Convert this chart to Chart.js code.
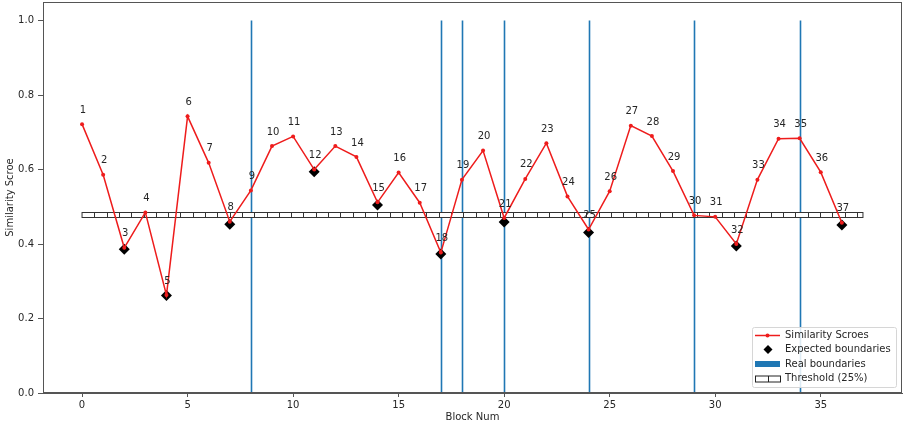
<!DOCTYPE html>
<html><head><meta charset="utf-8">
<script src="https://cdn.jsdelivr.net/npm/chart.js@4"></script>
<style>html,body{margin:0;padding:0;background:#fff}#wrap{width:904px;height:424px}</style>
</head><body><div id="wrap"><canvas id="c" width="904" height="424"></canvas></div>
<script>
// ---- data ----
const blockNums = [0,1,2,3,4,5,6,7,8,9,10,11,12,13,14,15,16,17,18,19,20,21,22,23,24,25,26,27,28,29,30,31,32,33,34,35,36];
const scores = [0.722,0.586,0.390,0.485,0.263,0.743,0.618,0.460,0.544,0.663,
                0.689,0.600,0.663,0.634,0.512,0.592,0.511,0.377,0.573,0.651,
                0.470,0.575,0.671,0.528,0.439,0.542,0.718,0.690,0.596,0.477,
                0.473,0.400,0.573,0.683,0.684,0.593,0.457];
const pointLabels = ["1","2","3","4","5","6","7","8","9","10","11","12","13","14","15","16","17","18","19","20","21","22","23","24","25","26","27","28","29","30","31","32","33","34","35","36","37"];
const expectedBlocks = [2,4,7,11,14,17,20,24,31,36];
const expectedScores = [0.386,0.262,0.453,0.594,0.505,0.373,0.459,0.431,0.395,0.451];
const realBoundaries = [8,17,18,20,24,29,34];
const thresholdValue = 0.477;
const thresholdRange = [0,37];
const xTicks = [0,5,10,15,20,25,30,35];
const yTicks = [0,0.2,0.4,0.6,0.8,1.0];
const legendLabels = ["Similarity Scroes","Expected boundaries","Real boundaries","Threshold (25%)"];

// ---- styles ----
const FONT = "DejaVu Sans";
const TXT = "#262626";
const SPINE = "#555";
const RED = "#ee1c1c";
const BLUE = "#1f77b4";

const frame = {
  id: 'frame',
  beforeDatasetsDraw(chart) {
    const {ctx, chartArea: a, scales: {x, y}} = chart;
    ctx.save();
    // real boundaries
    ctx.strokeStyle = BLUE; ctx.lineWidth = 1.6;
    realBoundaries.forEach(b => {
      const px = Math.round(x.getPixelForValue(b)) + 0.5;
      ctx.beginPath();
      ctx.moveTo(px, y.getPixelForValue(0));
      ctx.lineTo(px, y.getPixelForValue(1));
      ctx.stroke();
    });
    // threshold bar
    const x0 = x.getPixelForValue(thresholdRange[0]);
    const x1 = x.getPixelForValue(thresholdRange[1]);
    const yc = Math.round(y.getPixelForValue(thresholdValue));
    const top = yc - 2.5, h = 5;
    ctx.fillStyle = '#fff';
    ctx.fillRect(x0, top, x1 - x0, h);
    ctx.strokeStyle = '#333'; ctx.lineWidth = 1;
    ctx.strokeRect(x0, top, x1 - x0, h);
    ctx.beginPath();
    for (let px = x0 + 12.3; px < x1 - 2; px += 12.3) {
      const rx = Math.round(px) + 0.5;
      ctx.moveTo(rx, top); ctx.lineTo(rx, top + h);
    }
    ctx.stroke();
    ctx.restore();
  },
  afterDatasetsDraw(chart) {
    const {ctx, chartArea: a, scales: {x, y}} = chart;
    ctx.save();
    // point labels
    ctx.font = `10px "${FONT}"`;
    ctx.fillStyle = TXT;
    ctx.textAlign = 'center'; ctx.textBaseline = 'middle';
    blockNums.forEach((b, i) => {
      ctx.fillText(pointLabels[i], x.getPixelForValue(b) + 1, y.getPixelForValue(scores[i]) - 14);
    });
    // spines
    ctx.strokeStyle = SPINE; ctx.lineWidth = 1;
    ctx.strokeRect(Math.round(a.left) + 0.5, Math.round(a.top) + 0.5, Math.round(a.right - a.left) - 1, Math.round(a.bottom - a.top) - 1);
    // legend
    const lx = 752, ly = 327, lw = 144, lh = 60;
    ctx.beginPath();
    ctx.roundRect(lx + 0.5, ly + 0.5, lw, lh, 2);
    ctx.fillStyle = 'rgba(255,255,255,0.85)';
    ctx.fill();
    ctx.strokeStyle = '#d6d6d6';
    ctx.stroke();
    const rows = [335.5, 349.5, 364, 378.5];
    const hx0 = 755, hx1 = 780, tx = 785;
    // row 1 red line with dot
    ctx.strokeStyle = RED; ctx.lineWidth = 1.5;
    ctx.beginPath(); ctx.moveTo(hx0, rows[0]); ctx.lineTo(hx1, rows[0]); ctx.stroke();
    ctx.fillStyle = RED; ctx.beginPath(); ctx.arc((hx0+hx1)/2, rows[0], 2, 0, Math.PI*2); ctx.fill();
    // row 2 diamond
    ctx.fillStyle = '#000';
    const dx = 768, dy = rows[1], r = 4.5;
    ctx.beginPath(); ctx.moveTo(dx, dy - r); ctx.lineTo(dx + r, dy); ctx.lineTo(dx, dy + r); ctx.lineTo(dx - r, dy); ctx.closePath(); ctx.fill();
    // row 3 blue rect
    ctx.fillStyle = BLUE; ctx.fillRect(hx0, rows[2] - 3, hx1 - hx0, 6);
    // row 4 threshold rect
    ctx.fillStyle = '#fff'; ctx.fillRect(hx0, rows[3] - 3, hx1 - hx0, 6);
    ctx.strokeStyle = '#222'; ctx.lineWidth = 1;
    ctx.strokeRect(hx0 + 0.5, rows[3] - 3 + 0.5, hx1 - hx0, 6);
    ctx.beginPath(); ctx.moveTo(768.5, rows[3] - 2.5); ctx.lineTo(768.5, rows[3] + 3.5); ctx.stroke();
    ctx.fillStyle = TXT; ctx.textAlign = 'left'; ctx.textBaseline = 'middle';
    ctx.font = `10px "${FONT}"`;
    legendLabels.forEach((t, i) => ctx.fillText(t, tx, rows[i]));
    ctx.restore();
  }
};

function noPad(s) { s.paddingTop = 0; s.paddingBottom = 0; s.paddingLeft = 0; s.paddingRight = 0; }

new Chart(document.getElementById('c'), {
  type: 'scatter',
  data: {
    datasets: [
      {
        type: 'line',
        label: legendLabels[0],
        data: blockNums.map((b, i) => ({x: b, y: scores[i]})),
        borderColor: RED, backgroundColor: RED,
        borderWidth: 1.5, pointRadius: 2, pointHoverRadius: 2,
        pointBackgroundColor: RED, pointBorderWidth: 0,
        tension: 0, fill: false, order: 1
      },
      {
        label: legendLabels[1],
        data: expectedBlocks.map((b, i) => ({x: b, y: expectedScores[i]})),
        pointStyle: 'rectRot', pointRadius: 5.5, pointHoverRadius: 5.5,
        backgroundColor: '#000', borderColor: '#000', borderWidth: 0, order: 2
      }
    ]
  },
  options: {
    responsive: false, animation: false,
    devicePixelRatio: 1,
    layout: {autoPadding: false, padding: {top: 2, right: 2, left: 0, bottom: 0}},
    plugins: {legend: {display: false}, tooltip: {enabled: false}},
    events: [],
    scales: {
      x: {
        type: 'linear', min: -1.85, max: 38.85,
        afterFit(s) { s.height = 31; noPad(s); },
        afterBuildTicks(s) { s.ticks = xTicks.map(v => ({value: v})); },
        grid: {display: true, drawOnChartArea: false, drawTicks: true, tickLength: 4, color: SPINE},
        border: {display: true, color: SPINE},
        ticks: {font: {family: FONT, size: 10}, color: TXT, padding: 2, maxRotation: 0,
                callback: v => String(v)},
        title: {display: true, text: 'Block Num', font: {family: FONT, size: 10}, color: TXT,
                padding: {top: 0, bottom: 1}}
      },
      y: {
        type: 'linear', min: 0, max: 1.05,
        afterFit(s) { s.width = 43; noPad(s); },
        afterBuildTicks(s) { s.ticks = yTicks.map(v => ({value: v})); },
        grid: {display: true, drawOnChartArea: false, drawTicks: true, tickLength: 5, color: SPINE},
        border: {display: true, color: SPINE},
        ticks: {font: {family: FONT, size: 10}, color: TXT, padding: 4,
                callback: v => Number(v).toFixed(1)},
        title: {display: true, text: 'Similarity Scroe', font: {family: FONT, size: 10}, color: TXT,
                padding: {top: 4, bottom: 0}}
      }
    }
  },
  plugins: [frame]
});
</script></body></html>
